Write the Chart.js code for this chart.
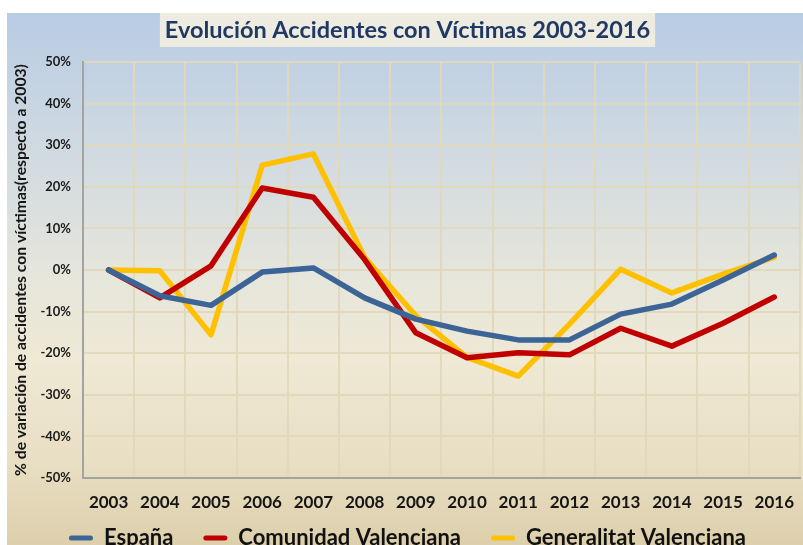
<!DOCTYPE html>
<html><head><meta charset="utf-8">
<script src="https://cdn.jsdelivr.net/npm/chart.js@4"></script>
<style>
html,body{margin:0;padding:0;overflow:hidden;background:#fff;width:803px;height:545px}
#wrap{position:absolute;left:0;top:0;width:808px;height:583px}
</style></head><body>
<div id="wrap"><canvas id="c"></canvas></div>
<script>
const years = ['2003','2004','2005','2006','2007','2008','2009','2010','2011','2012','2013','2014','2015','2016'];
const espana = [0,-6.2,-8.5,-0.5,0.5,-6.7,-11.8,-14.7,-16.8,-16.8,-10.6,-8.2,-2.4,3.6];
const comunidadValenciana = [0,-6.7,1,19.7,17.5,2.5,-15.1,-21.1,-19.9,-20.4,-14,-18.3,-12.8,-6.5];
const generalitatValenciana = [0,-0.2,-15.6,25.2,27.9,3,-11,-21,-25.5,-13,0.2,-5.5,-1,3.1];
const yTicks = {min:-50, max:50, step:10};
const titleText = 'Evolución Accidentes con Víctimas 2003-2016';
const yTitle = '% de variación de accidentes con víctimas(respecto a 2003)';

const bgPlugin = {
  id:'bg',
  afterLayout(chart){
    const lg = chart.legend;
    if (lg) { lg.top -= 21; lg.bottom -= 21; }
  },
  beforeDraw(chart){
    const ctx = chart.ctx;
    const W = chart.width, H = chart.height;
    const g = ctx.createLinearGradient(0,13,0,545);
    g.addColorStop(0,'#B8CCE4');
    g.addColorStop(0.3,'#D4DCE0');
    g.addColorStop(0.5,'#E6E6DB');
    g.addColorStop(0.65,'#EFE9D5');
    g.addColorStop(0.85,'#E8DEC3');
    g.addColorStop(1,'#DDCFAB');
    ctx.save();
    ctx.fillStyle='#ffffff';
    ctx.fillRect(0,0,W,H);
    ctx.fillStyle=g;
    ctx.fillRect(7,13,W-7,H-13);
    const t = chart.titleBlock;
    if (t) {
      const opts = chart.options.plugins.title;
      const f = Chart.helpers.toFont(opts.font);
      ctx.font = f.string;
      const tw = ctx.measureText(titleText).width;
      const cx = (t.left + t.right)/2;
      ctx.fillStyle='#EEEBE0';
      ctx.fillRect(cx - tw/2 - 5, 13, tw + 10, 34);
    }
    ctx.restore();
  }
};

new Chart(document.getElementById('c'), {
  type:'line',
  data:{
    labels: years,
    datasets:[
      {label:'España', data:espana, borderColor:'#3C6497', backgroundColor:'#3C6497'},
      {label:'Comunidad Valenciana', data:comunidadValenciana, borderColor:'#C00000', backgroundColor:'#C00000'},
      {label:'Generalitat Valenciana', data:generalitatValenciana, borderColor:'#FFC000', backgroundColor:'#FFC000'}
    ]
  },
  options:{
    responsive:true, maintainAspectRatio:false, animation:false, devicePixelRatio:1,
    elements:{
      line:{borderWidth:5.5, tension:0, borderCapStyle:'round', borderJoinStyle:'round'},
      point:{radius:0, hoverRadius:0}
    },
    layout:{padding:{left:7, top:0, right:0, bottom:3}},
    plugins:{
      title:{display:true, text:titleText, color:'#1F3864',
        font:{family:'Lato', weight:'bold', size:23.5}, padding:{top:16, bottom:17.8}},
      legend:{display:true, position:'bottom',
        labels:{
          font:{family:'Lato', weight:'bold', size:22}, color:'#111111',
          boxWidth:24, boxHeight:5, padding:30, useBorderRadius:true, borderRadius:2.5,
          generateLabels(chart){
            const items = Chart.defaults.plugins.legend.labels.generateLabels(chart);
            items.forEach(i=>{ i.lineWidth = 0; });
            return items;
          }
        }},
      tooltip:{enabled:false}
    },
    scales:{
      x:{
        offset:true,
        grid:{offset:true, color:'rgba(226,216,186,0.95)', lineWidth:2, drawTicks:false},
        border:{color:'#A3A3A3', width:2},
        ticks:{font:{family:'Lato', weight:'bold', size:17}, color:'#151515', padding:14, maxRotation:0, autoSkip:false},
        afterFit(s){ s.height = 40; }
      },
      y:{
        min:yTicks.min, max:yTicks.max,
        grid:{color:'rgba(226,216,186,0.95)', lineWidth:2, drawTicks:false},
        border:{color:'#A3A3A3', width:2},
        ticks:{stepSize:yTicks.step, callback:v=>v+'%', font:{family:'Lato', weight:'bold', size:13}, color:'#1a1a1a', padding:12},
        title:{display:true, text:yTitle, font:{family:'Lato', weight:'bold', size:15.7}, color:'#151515', padding:{top:5,bottom:0}},
        afterFit(s){ s.width = 76; }
      }
    }
  },
  plugins:[bgPlugin]
});
</script>
</body></html>
